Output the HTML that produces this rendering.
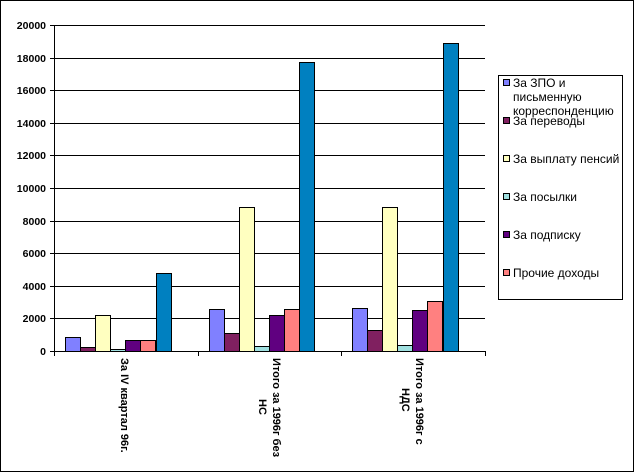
<!DOCTYPE html>
<html><head><meta charset="utf-8"><style>
html,body{margin:0;padding:0;background:#fff}
svg{display:block}
text{font-family:"Liberation Sans",Arial,sans-serif}
</style></head><body>
<svg width="635" height="473" viewBox="0 0 635 473" xmlns="http://www.w3.org/2000/svg">
<rect x="0.5" y="0.5" width="633" height="471" fill="#fff" stroke="#000"/>
<g stroke="#000" stroke-width="1">
<line x1="50" y1="25.5" x2="485" y2="25.5"/>
<line x1="50" y1="58.5" x2="485" y2="58.5"/>
<line x1="50" y1="90.5" x2="485" y2="90.5"/>
<line x1="50" y1="123.5" x2="485" y2="123.5"/>
<line x1="50" y1="155.5" x2="485" y2="155.5"/>
<line x1="50" y1="188.5" x2="485" y2="188.5"/>
<line x1="50" y1="221.5" x2="485" y2="221.5"/>
<line x1="50" y1="253.5" x2="485" y2="253.5"/>
<line x1="50" y1="286.5" x2="485" y2="286.5"/>
<line x1="50" y1="318.5" x2="485" y2="318.5"/>
<line x1="54.5" y1="25" x2="54.5" y2="356"/>
<line x1="50" y1="351.5" x2="485" y2="351.5"/>
<line x1="198.5" y1="351" x2="198.5" y2="356"/>
<line x1="341.5" y1="351" x2="341.5" y2="356"/>
<line x1="485.5" y1="351" x2="485.5" y2="356"/>
</g>
<g font-size="10.5" font-weight="bold" text-anchor="end" fill="#000">
<text x="46" y="29">20000</text><text x="46" y="62">18000</text><text x="46" y="94">16000</text>
<text x="46" y="127">14000</text><text x="46" y="159">12000</text><text x="46" y="192">10000</text>
<text x="46" y="225">8000</text><text x="46" y="257">6000</text><text x="46" y="290">4000</text>
<text x="46" y="322">2000</text><text x="46" y="355">0</text>
</g>
<g stroke="#000" stroke-width="1">
<rect x="65.5" y="337.5" width="15" height="14" fill="#8080ff"/>
<rect x="80.5" y="347.5" width="15" height="4" fill="#802060"/>
<rect x="95.5" y="315.5" width="15" height="36" fill="#ffffc0"/>
<rect x="110.5" y="349.5" width="15" height="2" fill="#a0e0e0"/>
<rect x="125.5" y="340.5" width="15" height="11" fill="#600080"/>
<rect x="140.5" y="340.5" width="15" height="11" fill="#ff8080"/>
<rect x="156.5" y="273.5" width="15" height="78" fill="#0080c0"/>
<rect x="209.5" y="309.5" width="15" height="42" fill="#8080ff"/>
<rect x="224.5" y="333.5" width="15" height="18" fill="#802060"/>
<rect x="239.5" y="207.5" width="15" height="144" fill="#ffffc0"/>
<rect x="254.5" y="346.5" width="15" height="5" fill="#a0e0e0"/>
<rect x="269.5" y="315.5" width="15" height="36" fill="#600080"/>
<rect x="284.5" y="309.5" width="15" height="42" fill="#ff8080"/>
<rect x="299.5" y="62.5" width="15" height="289" fill="#0080c0"/>
<rect x="352.5" y="308.5" width="15" height="43" fill="#8080ff"/>
<rect x="367.5" y="330.5" width="15" height="21" fill="#802060"/>
<rect x="382.5" y="207.5" width="15" height="144" fill="#ffffc0"/>
<rect x="397.5" y="345.5" width="15" height="6" fill="#a0e0e0"/>
<rect x="412.5" y="310.5" width="15" height="41" fill="#600080"/>
<rect x="427.5" y="301.5" width="15" height="50" fill="#ff8080"/>
<rect x="443.5" y="43.5" width="15" height="308" fill="#0080c0"/>
</g>
<g font-size="11" font-weight="bold" fill="#000">
<text transform="translate(121,358) rotate(90)">За IV квартал 96г.</text>
<text transform="translate(273,358) rotate(90)">Итого за 1996г без</text>
<text transform="translate(259,399) rotate(90)">НС</text>
<text transform="translate(416,358) rotate(90)">Итого за 1996г с</text>
<text transform="translate(402,388) rotate(90)">НДС</text>
</g>
<rect x="498.5" y="75.5" width="124" height="224" fill="#fff" stroke="#000"/>
<g stroke="#000" stroke-width="1">
<rect x="503.5" y="79.5" width="6" height="6" fill="#8080ff"/>
<rect x="503.5" y="117.5" width="6" height="6" fill="#802060"/>
<rect x="503.5" y="155.5" width="6" height="6" fill="#ffffc0"/>
<rect x="503.5" y="193.5" width="6" height="6" fill="#a0e0e0"/>
<rect x="503.5" y="231.5" width="6" height="6" fill="#600080"/>
<rect x="503.5" y="269.5" width="6" height="6" fill="#ff8080"/>
</g>
<g font-size="12" fill="#000">
<text x="513" y="87">За ЗПО и</text>
<text x="513" y="101">письменную</text>
<text x="513" y="115">корреспонденцию</text>
<text x="513" y="125">За переводы</text>
<text x="513" y="163">За выплату пенсий</text>
<text x="513" y="201">За посылки</text>
<text x="513" y="239">За подписку</text>
<text x="513" y="277">Прочие доходы</text>
</g>
</svg>
</body></html>
